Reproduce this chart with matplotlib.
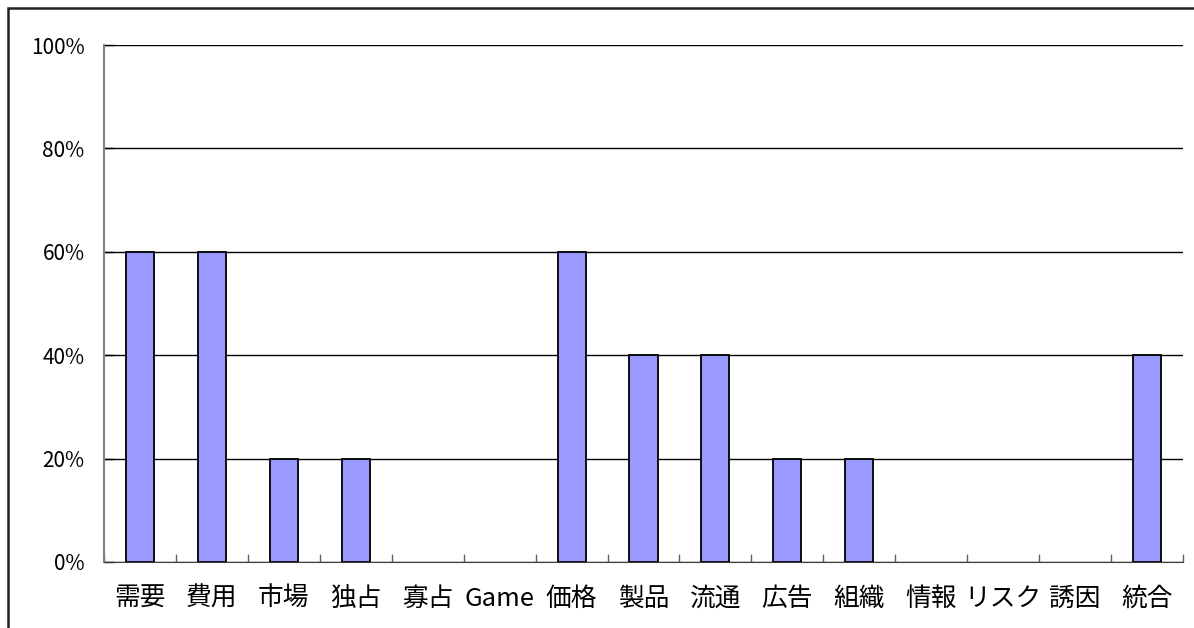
import matplotlib
matplotlib.use("Agg")
import matplotlib.pyplot as plt
from matplotlib.patches import Rectangle
from matplotlib.ticker import FixedLocator, PercentFormatter

plt.rcParams['font.family'] = ['Noto Sans CJK JP', 'DejaVu Sans']

kategorier = ['需要', '費用', '市場', '独占', '寡占', 'Game', '価格', '製品',
              '流通', '広告', '組織', '情報', 'リスク', '誘因', '統合']
andel = [60, 60, 20, 20, 0, 0, 60, 40, 40, 20, 20, 0, 0, 0, 40]

fig = plt.figure(figsize=(11.94, 6.28), dpi=100)
ax = fig.add_axes([104 / 1194, 1 - 562 / 628, (1183 - 104) / 1194, (562 - 45) / 628])

x = list(range(len(kategorier)))
kantbredde = [1.3 if v > 0 else 0 for v in andel]
ax.bar(x, andel, width=0.39, color='#9999FF', edgecolor='black', linewidth=kantbredde, zorder=3)

ax.set_xlim(-0.5, len(kategorier) - 0.5)
ax.set_ylim(0, 100)
ax.set_yticks([0, 20, 40, 60, 80, 100])
ax.yaxis.set_major_formatter(PercentFormatter(decimals=0))
ax.grid(axis='y', color='black', linewidth=1, zorder=1)

ax.set_xticks(x)
ax.set_xticklabels(kategorier, fontsize=18.5)
ax.tick_params(axis='x', length=0, pad=17)
ax.xaxis.set_minor_locator(FixedLocator([i + 0.5 for i in range(-1, len(kategorier))]))
ax.tick_params(axis='x', which='minor', direction='in', length=6, color='#606060', width=1)
ax.tick_params(axis='y', direction='in', length=7, color='black', width=1, labelsize=15, pad=14)

for s in ['top', 'right']:
    ax.spines[s].set_visible(False)
ax.spines['left'].set_color('#808080')
ax.spines['bottom'].set_color('#404040')
ax.spines['left'].set_linewidth(1.5)

# ramme rundt hele figuren
fig.patches.append(Rectangle((8 / 1194, -0.1), 1.2, 1 - 8 / 628 + 0.1,
                             transform=fig.transFigure, fill=False,
                             edgecolor='#222222', linewidth=1.8))

fig.savefig('out.png', dpi=100)
